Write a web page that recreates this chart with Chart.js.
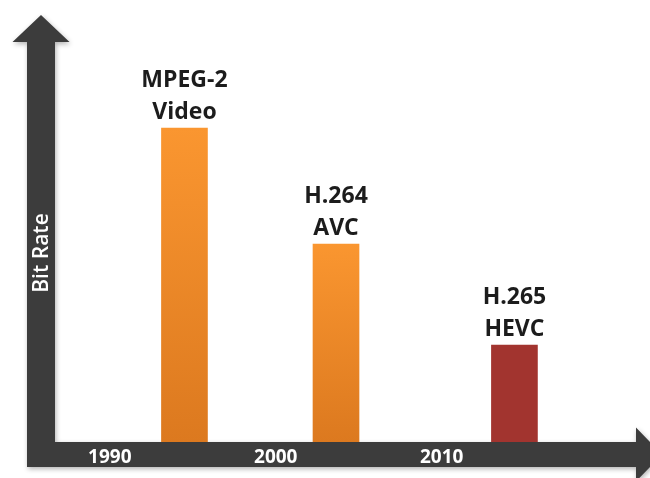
<!DOCTYPE html>
<html>
<head>
<meta charset="utf-8">
<script src="https://cdn.jsdelivr.net/npm/chart.js@4/dist/chart.umd.min.js"></script>
<style>
  html, body { margin: 0; padding: 0; background: #fff; }
</style>
</head>
<body>
<canvas id="myChart" width="650" height="478"></canvas>
<script>
const codecs = [['MPEG-2', 'Video'], ['H.264', 'AVC'], ['H.265', 'HEVC']]
const releaseYears = [1994.5, 2003.63, 2014.38]
const bitRates = [78.5, 49.5, 24.2]
const yearTicks = [1990, 2000, 2010]
const axisTitle = 'Bit Rate'

const axisColor = '#3c3c3c'

let barFill = (c) => {
  let chart = c.chart
  if (c.dataIndex === 2) return '#a2342f'
  if (!chart.chartArea || !chart.scales.y) return '#f08a28'
  let top = chart.scales.y.getPixelForValue(bitRates[c.dataIndex])
  let bottom = chart.chartArea.bottom
  if (!isFinite(top) || !isFinite(bottom)) return '#f08a28'
  let g = chart.ctx.createLinearGradient(0, top, 0, bottom)
  g.addColorStop(0, '#fa9630')
  g.addColorStop(1, '#dc791f')
  return g
}

// dark arrow axes and the y title sitting on the shaft
const axisArrows = {
  id: 'axisArrows',
  beforeDraw(chart) {
    let ctx = chart.ctx
    let a = chart.chartArea
    let sL = a.left - 28
    let cx = (sL + a.left) / 2
    let bandBottom = a.bottom + 25
    let midY = (a.bottom + bandBottom) / 2
    let ahx = a.right + 16
    ctx.save()
    ctx.fillStyle = axisColor
    ctx.shadowColor = 'rgba(0,0,0,0.3)'
    ctx.shadowBlur = 5
    ctx.shadowOffsetX = 1
    ctx.shadowOffsetY = 2
    ctx.beginPath()
    ctx.moveTo(sL, bandBottom)
    ctx.lineTo(sL, a.top)
    ctx.lineTo(cx - 28.5, a.top)
    ctx.lineTo(cx, a.top - 27)
    ctx.lineTo(cx + 28.5, a.top)
    ctx.lineTo(a.left, a.top)
    ctx.lineTo(a.left, a.bottom)
    ctx.lineTo(ahx, a.bottom)
    ctx.lineTo(ahx, midY - 27)
    ctx.lineTo(ahx + 26, midY)
    ctx.lineTo(ahx, midY + 27)
    ctx.lineTo(ahx, bandBottom)
    ctx.closePath()
    ctx.fill()
    ctx.restore()

    ctx.save()
    ctx.translate(cx + 1, 253)
    ctx.rotate(-Math.PI / 2)
    ctx.fillStyle = '#ffffff'
    ctx.font = '600 21px "Open Sans"'
    ctx.textAlign = 'center'
    ctx.textBaseline = 'middle'
    ctx.fillText(axisTitle, 0, 0)
    ctx.restore()
  }
}

// two-line codec names above each bar
const barNames = {
  id: 'barNames',
  afterDatasetsDraw(chart) {
    let ctx = chart.ctx
    let bars = chart.getDatasetMeta(0).data
    ctx.save()
    ctx.fillStyle = '#1c1c1c'
    ctx.font = 'bold 23px "Open Sans"'
    ctx.textAlign = 'center'
    ctx.textBaseline = 'alphabetic'
    bars.forEach((bar, i) => {
      ctx.fillText(codecs[i][0], bar.x, bar.y - 41)
      ctx.fillText(codecs[i][1], bar.x, bar.y - 9)
    })
    ctx.restore()
  }
}

let ctx = document.getElementById('myChart')
let barChart = new Chart(ctx, {
  type: 'bar',
  data: {
    datasets: [{
      label: axisTitle,
      data: releaseYears.map((yr, i) => ({ x: yr, y: bitRates[i] })),
      backgroundColor: barFill,
      barThickness: 46,
      borderWidth: 0
    }]
  },
  options: {
    responsive: false,
    animation: false,
    devicePixelRatio: 1,
    layout: { padding: { top: 42, left: 55, right: 30, bottom: 0 } },
    plugins: {
      legend: { display: false },
      tooltip: { enabled: false }
    },
    scales: {
      x: {
        type: 'linear',
        offset: false,
        min: 1986.7,
        max: 2020.74,
        grid: { display: false, offset: false },
        border: { display: false },
        afterBuildTicks: (scale) => { scale.ticks = yearTicks.map(v => ({ value: v })) },
        afterFit: (scale) => { scale.height = 36 },
        ticks: {
          color: '#ffffff',
          padding: -4,
          font: { family: 'Open Sans', size: 19, weight: 'bold' },
          callback: (v) => String(v)
        }
      },
      y: {
        display: false,
        min: 0,
        max: 100
      }
    }
  },
  plugins: [axisArrows, barNames]
})
</script>
</body>
</html>
